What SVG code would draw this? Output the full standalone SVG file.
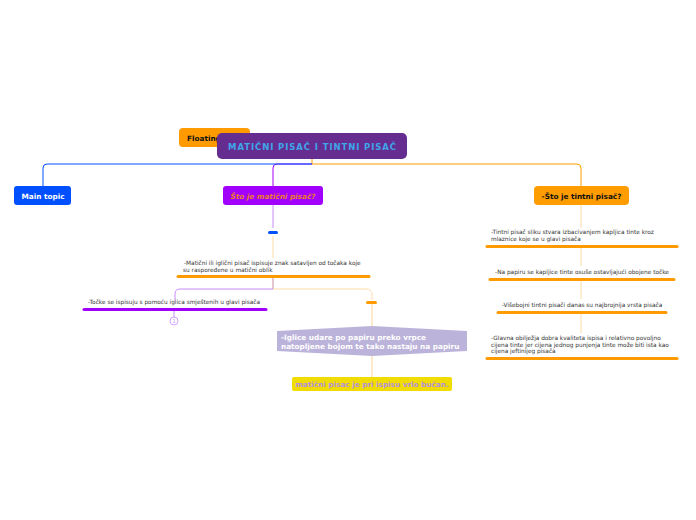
<svg xmlns="http://www.w3.org/2000/svg" width="696" height="520" viewBox="0 0 696 520">
<style>
.t{font-family:"DejaVu Sans",Verdana,sans-serif;font-size:5.8px;fill:#333}
.b{font-family:"DejaVu Sans",Verdana,sans-serif;font-weight:bold}
.ul{stroke-width:3;stroke-linecap:round;fill:none}
.c{fill:none;stroke-width:1}
</style>
<rect width="696" height="520" fill="#fff"/>
<g id="connectors">
<path class="c" d="M312 159 V164 H577 Q581 164 581 168 V186" stroke="#ffa000"/>
<path class="c" d="M312 164 H277 Q273 164 273 168 V186" stroke="#a000ff"/>
<path class="c" d="M312 164 H47 Q43 164 43 168 V186" stroke="#0050ff"/>
<path class="c" d="M273 205 V228" stroke="#c98cff"/>
<path class="c" d="M273 236 V258" stroke="#ffdca8"/>
<path class="c" d="M273 276 V289" stroke="#c98c9c"/>
<path class="c" d="M273 289 H180 Q175 289 175 294 V300" stroke="#c98cff"/>
<path class="c" d="M273 289 H366 Q372 289 372 295 V300" stroke="#ffdca8"/>
<path class="c" d="M174 309 V317" stroke="#c98cff"/>
<path class="c" d="M372 304 V327" stroke="#ffd39a"/>
<path class="c" d="M372 356 V377" stroke="#ffd39a"/>
<path class="c" d="M581 205 V228 M581 247 V266 M581 280 V299 M581 313 V333" stroke="#ffdca8"/>
</g>
<g id="floating">
<rect x="179" y="128" width="71" height="19" rx="4" fill="#ff9a00"/>
<text class="b" x="187" y="141" font-size="7.3" fill="#111">Floating</text>
</g>
<g id="central">
<rect x="217" y="133" width="190" height="26" rx="5" fill="#652d90"/>
<text class="b" x="312.5" y="150" font-size="8.5" letter-spacing="0.9" fill="#3fa6e8" text-anchor="middle">MATIČNI PISAČ I TINTNI PISAČ</text>
</g>
<g id="main-topic">
<rect x="14" y="186" width="57" height="19" rx="3" fill="#0050ff"/>
<text class="b" x="43" y="198.5" font-size="7.3" fill="#fff" text-anchor="middle">Main topic</text>
</g>
<g id="matricni">
<rect x="223" y="186" width="100" height="19" rx="3" fill="#a100ff"/>
<text class="b" x="273" y="198.5" font-size="7.3" font-style="italic" fill="#ec7a2c" text-anchor="middle">Što je matični pisač?</text>
</g>
<g id="tintni">
<rect x="534" y="186" width="95" height="19" rx="4" fill="#ff9c00"/>
<text class="b" x="581.5" y="198.5" font-size="7.3" fill="#111" text-anchor="middle">-Što je tintni pisač?</text>
</g>
<g id="dash1"><rect x="268" y="231" width="10" height="3" rx="1.5" fill="#0050ff"/></g>
<g id="m1">
<text class="t" x="184" y="265">-Matični ili iglični pisač ispisuje znak satavljen od točaka koje</text>
<text class="t" x="183" y="271.5">su raspoređene u matični oblik</text>
<path class="ul" d="M178 276.5 H369" stroke="#ff9a00"/>
</g>
<g id="m2">
<text class="t" x="88" y="304">-Točke se ispisuju s pomoću iglica smještenih u glavi pisača</text>
<path class="ul" d="M84 309.5 H266" stroke="#a100ff"/>
<circle cx="174" cy="321" r="4" fill="#fff" stroke="#c98cff" stroke-width="0.8"/>
<text x="174" y="323" font-family="DejaVu Sans,sans-serif" font-size="5" fill="#c98cff" text-anchor="middle">1</text>
</g>
<g id="dash2"><rect x="366" y="301" width="11" height="3" rx="1.5" fill="#ff9a00"/></g>
<g id="iglice">
<polygon points="277,331 372,326 467,331 467,351 372,356 277,351" fill="#bbb3d9" stroke-linejoin="round"/>
<text class="b" x="281" y="340" font-size="7.3" fill="#fff">-Iglice udare po papiru preko vrpce</text>
<text class="b" x="281" y="348.5" font-size="7.3" fill="#fff">natopljene bojom te tako nastaju na papiru</text>
</g>
<g id="bucan">
<rect x="292" y="377" width="160" height="14" rx="2" fill="#f0dc00"/>
<text class="b" x="372" y="387" font-size="7.3" fill="#b592d8" text-anchor="middle">matični pisac je pri ispisu vrlo bučan.</text>
</g>
<g id="t1">
<text class="t" x="491" y="234">-Tintni pisač sliku stvara izbacivanjem kapljica tinte kroz</text>
<text class="t" x="491" y="241">mlaznice koje se u glavi pisača</text>
<path class="ul" d="M487 246.5 H677" stroke="#ff9a00"/>
</g>
<g id="t2">
<text class="t" x="582" y="274" text-anchor="middle">-Na papiru se kapljice tinte osuše ostavljajući obojene točke</text>
<path class="ul" d="M490 279.5 H674" stroke="#ff9a00"/>
</g>
<g id="t3">
<text class="t" x="582" y="307" text-anchor="middle">-Višebojni tintni pisači danas su najbrojnija vrsta pisača</text>
<path class="ul" d="M498 312.5 H666" stroke="#ff9a00"/>
</g>
<g id="t4">
<text class="t" x="491" y="340">-Glavna obilježja dobra kvaliteta ispisa i relativno povoljno</text>
<text class="t" x="491" y="346.5">cijena tinte jer cijena jednog punjenja  tinte može biti ista kao</text>
<text class="t" x="491" y="353">cijena jeftinijeg pisača</text>
<path class="ul" d="M487 358.5 H677" stroke="#ff9a00"/>
</g>
</svg>
